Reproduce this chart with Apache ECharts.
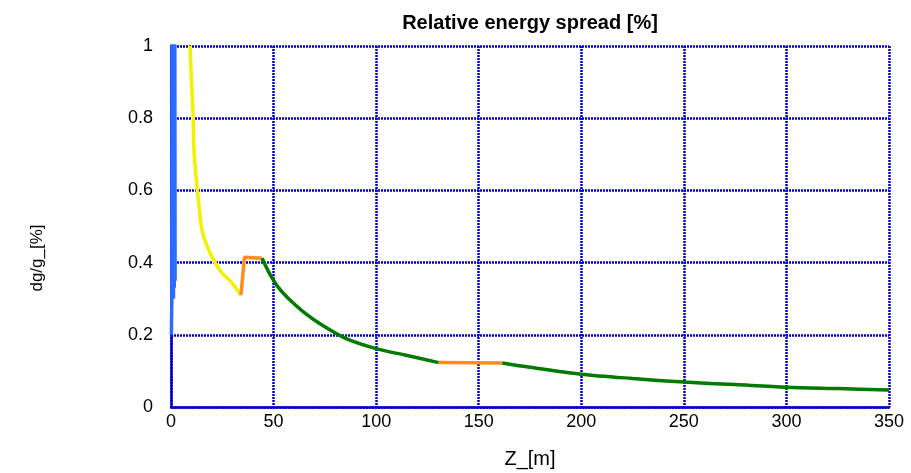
<!DOCTYPE html>
<html>
<head>
<meta charset="utf-8">
<script src="https://cdn.jsdelivr.net/npm/echarts@6/dist/echarts.min.js"></script>
<style>html,body{margin:0;padding:0;background:#fff;}#c{width:911px;height:473px;}</style>
</head>
<body>
<div id="c"></div>
<script>
const titleText = 'Relative energy spread [%]';
const xName = 'Z_[m]';
const yName = 'dg/g_[%]';
const xTicks = [0, 50, 100, 150, 200, 250, 300, 350];
const yTicks = [0, 0.2, 0.4, 0.6, 0.8, 1];

const blueZ = [0.2, 0.4, 0.6, 0.8, 1.0, 1.2, 1.4, 1.6, 1.8, 2.0];
const blueV = [0.2, 0.3, 1.3, 0.32, 1.3, 0.3, 1.3, 0.33, 1.3, 0.35];

const yellowZ = [9.3, 10, 10.7, 11.2, 12.5, 13.8, 15.1, 18, 21.5, 25, 28.8, 31.5, 34.1];
const yellowV = [1.0, 0.9, 0.82, 0.71, 0.62, 0.55, 0.49, 0.44, 0.40, 0.37, 0.35, 0.33, 0.31];

const orange1Z = [34.1, 35.8, 44.4];
const orange1V = [0.31, 0.415, 0.412];

const green1Z = [44.4, 48, 52.2, 57, 65.3, 73.6, 84.8, 100.4, 114, 130.5];
const green1V = [0.412, 0.37, 0.332, 0.302, 0.26, 0.227, 0.191, 0.161, 0.144, 0.123];

const orange2Z = [130.5, 161.5];
const orange2V = [0.123, 0.122];

const green2Z = [161.5, 175, 200, 225, 250, 275, 300, 325, 350];
const green2V = [0.122, 0.11, 0.091, 0.079, 0.069, 0.062, 0.055, 0.051, 0.047];

function pairs(z, v) { return z.map((x, i) => [x, v[i]]); }

const chart = echarts.init(document.getElementById('c'), null, {renderer: 'canvas'});
const gridColor = '#0000c8';
const font = '"Liberation Sans", Arial, sans-serif';
function line(name, z, v, color, smooth) {
  return {name, type: 'line', data: pairs(z, v), showSymbol: false, symbol: 'none', smooth: smooth || false,
    lineStyle: {color, width: 3.5}, itemStyle: {color}, clip: true, animation: false};
}
const gridLine = {color: gridColor, width: 2.5, type: [2, 1]};
chart.setOption({
  animation: false,
  backgroundColor: '#fff',
  grid: {left: 171, right: 22, top: 46, bottom: 66, containLabel: false},
  xAxis: {
    type: 'value', min: xTicks[0], max: xTicks[xTicks.length - 1], interval: 50,
    axisLine: {show: true, lineStyle: gridLine},
    axisTick: {show: false},
    axisLabel: {color: '#000', fontSize: 18, fontFamily: font, margin: 6},
    splitLine: {show: true, lineStyle: gridLine}
  },
  yAxis: {
    type: 'value', min: yTicks[0], max: yTicks[yTicks.length - 1], interval: 0.2,
    axisLine: {show: true, lineStyle: gridLine},
    axisTick: {show: false},
    axisLabel: {color: '#000', fontSize: 18, fontFamily: font, margin: 18},
    splitLine: {show: true, lineStyle: gridLine}
  },
  graphic: [
    {type: 'text', x: 530, y: 23, style: {text: titleText, font: 'bold 20px ' + font, fill: '#000', align: 'center', verticalAlign: 'middle'}},
    {type: 'text', x: 530, y: 459, style: {text: xName, font: '20px ' + font, fill: '#000', align: 'center', verticalAlign: 'middle'}},
    {type: 'text', x: 37, y: 258, rotation: Math.PI / 2, style: {text: yName, font: '17px ' + font, fill: '#000', align: 'center', verticalAlign: 'middle'}}
  ],
  series: [
    line('blue', blueZ, blueV, '#2a6cff'),
    line('yellow', yellowZ, yellowV, '#f2f200', 0.3),
    line('orange1', orange1Z, orange1V, '#ff8c1e'),
    line('green1', green1Z, green1V, '#007a00', 0.3),
    line('orange2', orange2Z, orange2V, '#ff8c1e'),
    line('green2', green2Z, green2V, '#007a00', 0.3)
  ]
});
</script>
</body>
</html>
